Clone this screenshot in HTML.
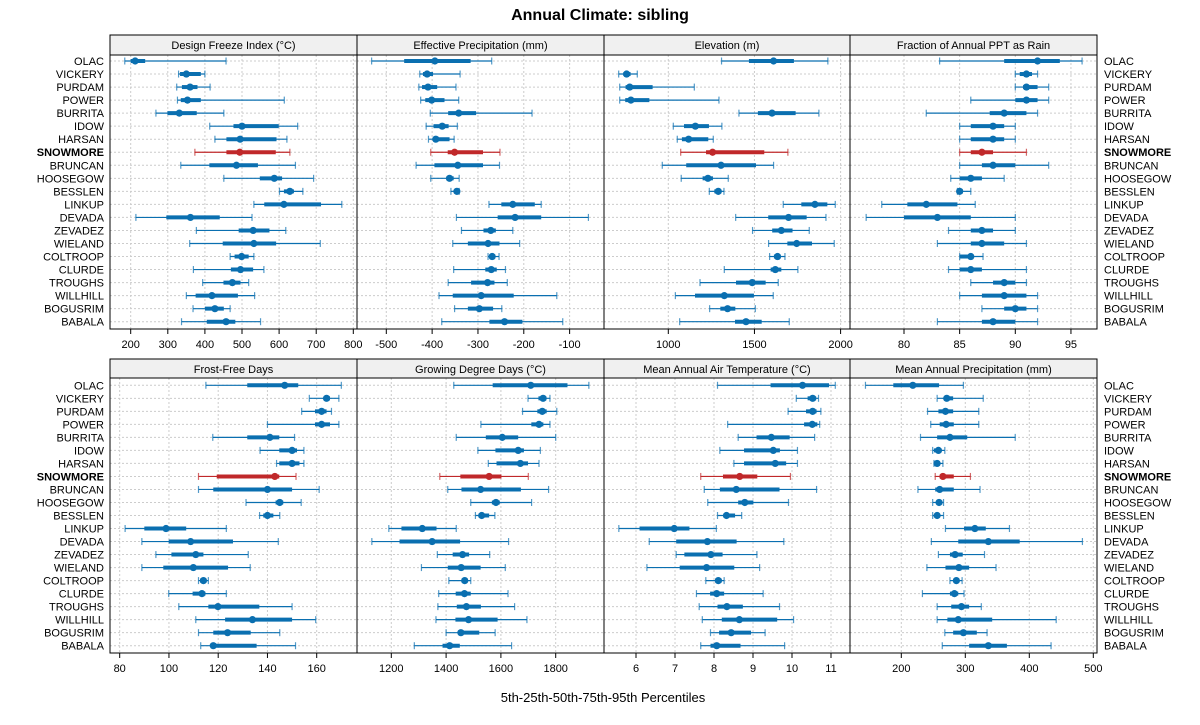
<!DOCTYPE html>
<html><head><meta charset="utf-8"><style>
body{margin:0;background:#fff;}
svg{display:block;font-family:"Liberation Sans",sans-serif;}
</style></head><body>
<svg id="chart" width="1200" height="725" viewBox="0 0 1200 725" xmlns="http://www.w3.org/2000/svg">
<text x="600" y="20" text-anchor="middle" font-size="16" font-weight="bold">Annual Climate: sibling</text>
<text x="603" y="702" text-anchor="middle" font-size="13">5th-25th-50th-75th-95th Percentiles</text>
</svg>
<script>
const sites = ["OLAC","VICKERY","PURDAM","POWER","BURRITA","IDOW","HARSAN","SNOWMORE","BRUNCAN","HOOSEGOW","BESSLEN","LINKUP","DEVADA","ZEVADEZ","WIELAND","COLTROOP","CLURDE","TROUGHS","WILLHILL","BOGUSRIM","BABALA"];
const highlight = "SNOWMORE";
const titles = ["Design Freeze Index (°C)","Effective Precipitation (mm)","Elevation (m)","Fraction of Annual PPT as Rain","Frost-Free Days","Growing Degree Days (°C)","Mean Annual Air Temperature (°C)","Mean Annual Precipitation (mm)"];
const ticksFreeze = [200,300,400,500,600,700,800];
const ticksPrecipEff = [-500,-400,-300,-200,-100];
const ticksElev = [1000,1500,2000];
const ticksRain = [80,85,90,95];
const ticksFFD = [80,100,120,140,160];
const ticksGDD = [1200,1400,1600,1800];
const ticksMAAT = [6,7,8,9,10,11];
const ticksMAP = [200,300,400,500];
const freeze = [[184,200,212,239,457],[329,333,350,389,400],[324,338,360,380,414],[326,335,353,389,614],[268,299,331,378,451],[413,477,500,599,650],[427,458,495,593,621],[373,458,494,591,629],[335,412,485,543,644],[451,548,587,608,693],[601,613,629,640,664],[532,560,613,713,769],[214,296,361,440,527],[377,491,530,574,618],[359,448,532,592,711],[468,480,499,518,532],[369,470,496,530,559],[394,450,474,496,518],[350,375,419,489,534],[368,400,427,451,468],[337,405,457,482,550]];
const precipEff = [[-532,-461,-394,-316,-270],[-427,-420,-411,-398,-339],[-429,-422,-409,-389,-348],[-425,-415,-401,-373,-342],[-404,-365,-342,-304,-182],[-413,-397,-378,-364,-345],[-408,-397,-392,-362,-352],[-403,-366,-351,-289,-252],[-435,-395,-344,-289,-253],[-403,-369,-362,-353,-341],[-359,-351,-346,-342,-341],[-276,-249,-224,-176,-162],[-347,-257,-219,-162,-59],[-336,-288,-272,-261,-224],[-355,-322,-278,-253,-209],[-278,-275,-269,-262,-254],[-353,-284,-271,-259,-240],[-365,-315,-279,-264,-236],[-385,-355,-293,-222,-128],[-351,-322,-297,-267,-248],[-379,-275,-242,-203,-115]];
const elev = [[1309,1468,1611,1729,1926],[712,739,758,781,820],[718,752,776,909,1151],[718,750,783,890,1294],[1410,1520,1602,1739,1874],[1029,1091,1157,1236,1311],[1052,1079,1118,1232,1261],[1072,1219,1257,1557,1694],[965,1104,1306,1509,1611],[1075,1199,1230,1259,1348],[1238,1267,1290,1308,1323],[1667,1772,1851,1923,1969],[1391,1580,1698,1803,1915],[1489,1603,1656,1721,1818],[1582,1691,1745,1834,1963],[1588,1613,1634,1652,1677],[1325,1594,1621,1656,1752],[1184,1393,1487,1565,1638],[1041,1155,1325,1497,1609],[1240,1302,1344,1389,1505],[1066,1387,1451,1542,1702]];
const rainFrac = [[83.2,89,92,94,96],[90,90.4,91,91.5,92],[90,90.7,91,92,93],[86,90,91,92,93],[82,87.7,89,91,92],[85,86,88,89,90],[85,86,88,89,90],[85,86,87,88,91],[85,87,88,90,93],[84.2,85,86,87,89],[84.8,85,85,85.3,86],[78,80.3,82,84.8,86.4],[76.6,80,83,86,90],[84,86,87,88,90],[83,86,87,89,91],[85,85,86,86,87.1],[84,85,86,87,91],[86,88,89,90,91],[85,87,89,91,92],[87,89,90,91,92],[83,87,88,90,92]];
const ffd = [[115,131.8,147,152.5,170],[157,162.8,164,165.4,169],[153.9,159.3,162,164,166],[140,159.3,162,165.4,169],[117.8,131.8,141,144.8,151],[137,144.8,150,152,154.8],[143.7,144.8,150,153,154.8],[112,119.4,143,144.8,151.6],[112,118,140,150,161],[131.3,143.3,145,146.4,153.7],[136.8,138.3,140,142.4,145],[82.2,90,98.8,107,123.3],[89,99.9,108.8,126,144.4],[94.7,101,110.9,114,132.2],[89,97.7,109.9,124,133],[112,112.6,114,115.3,116],[99.9,109.6,113.4,114.8,123.3],[104,116,119.9,136.7,150],[110.9,122.8,133.9,150,159.6],[112,118,123.8,133.2,145],[112.9,116.9,118,135.6,151.4]];
const gdd = [[1428,1570,1709,1843,1921],[1699,1737,1754,1766,1779],[1679,1733,1751,1767,1804],[1527,1711,1739,1755,1779],[1437,1545,1605,1663,1800],[1516,1580,1663,1684,1744],[1554,1584,1671,1699,1739],[1377,1452,1557,1602,1700],[1406,1456,1526,1673,1774],[1490,1567,1582,1596,1712],[1507,1518,1530,1557,1578],[1191,1237,1313,1365,1437],[1129,1230,1349,1451,1628],[1368,1424,1460,1484,1559],[1310,1406,1455,1526,1616],[1410,1456,1468,1479,1490],[1373,1435,1467,1490,1626],[1370,1439,1474,1527,1650],[1363,1434,1482,1588,1695],[1400,1443,1454,1521,1579],[1284,1387,1413,1450,1639]];
const maat = [[8.09,9.45,10.27,10.95,11.11],[10.11,10.4,10.53,10.62,10.68],[9.9,10.36,10.53,10.63,10.74],[8.35,10.31,10.52,10.65,10.71],[8.62,9.09,9.47,9.94,10.58],[8.15,8.77,9.52,9.69,10.14],[8.51,8.77,9.57,9.85,10.14],[7.66,8.23,8.66,9.11,9.96],[7.75,8.15,8.57,9.68,10.63],[7.84,8.62,8.79,9.01,9.91],[8.09,8.24,8.32,8.54,8.71],[5.56,6.09,6.98,7.37,8.06],[6.34,7.03,7.83,8.58,9.79],[7.03,7.24,7.92,8.22,9.1],[6.28,7.12,7.81,8.52,9.17],[7.79,8.03,8.11,8.2,8.26],[7.55,7.9,8.07,8.26,9.26],[7.62,8.09,8.33,8.74,9.68],[7.7,8.2,8.65,9.62,10.04],[7.91,8.13,8.44,8.95,9.31],[7.66,7.91,8.07,8.68,9.81]];
const mapp = [[144,187.5,218,259,297],[256,267,271,281,328],[241,258,269,281,321],[246,260,270,282,321],[230,256,276,303,378],[249,251,258,263,268],[251,253,256,259,265],[253,260,265,282,308],[226,253,260,282,323],[249,255,259,264,266],[249,253,256,260,266],[269,298,315,332,369],[247,289,336,385,483],[258,276,284,296,330],[240,269,290,306,348],[276,282,286,291,295],[233,276,283,289,298],[256,278,294,306,325],[256,272,289,342,442],[268,281,297,318,334],[264,306,336,365,434]];

const NS="http://www.w3.org/2000/svg";
const svg=document.getElementById('chart');
function mk(tag,attrs,parent){const e=document.createElementNS(NS,tag);for(const k in attrs)e.setAttribute(k,attrs[k]);(parent||svg).appendChild(e);return e;}

const panels=[
 {data:freeze,ticks:ticksFreeze,px0:130.7,v0:200,k:0.371,row:0,col:0},
 {data:precipEff,ticks:ticksPrecipEff,px0:386.3,v0:-500,k:0.4583,row:0,col:1},
 {data:elev,ticks:ticksElev,px0:668.3,v0:1000,k:0.1723,row:0,col:2},
 {data:rainFrac,ticks:ticksRain,px0:904,v0:80,k:11.13,row:0,col:3},
 {data:ffd,ticks:ticksFFD,px0:119.7,v0:80,k:2.4625,row:1,col:0},
 {data:gdd,ticks:ticksGDD,px0:391.3,v0:1200,k:0.274,row:1,col:1},
 {data:maat,ticks:ticksMAAT,px0:636,v0:6,k:39,row:1,col:2},
 {data:mapp,ticks:ticksMAP,px0:901.3,v0:200,k:0.64,row:1,col:3}
];
const colX=[110,357,604,850,1097];
const rowGeo=[{strip:35,top:55,bot:329,y0:61,y1:321.7},{strip:359,top:378,bot:653,y0:385.3,y1:645.7}];

// row labels
rowGeo.forEach((g,ri)=>{
 sites.forEach((s,i)=>{
  const y=g.y0+i*(g.y1-g.y0)/(sites.length-1);
  const b = s===highlight;
  const l=mk('text',{x:104,y:y+4,'text-anchor':'end','font-size':11,'font-weight':b?'bold':'normal'});
  l.textContent=s;
  
  
  const r=mk('text',{x:1104,y:y+4,'text-anchor':'start','font-size':11,'font-weight':b?'bold':'normal'});
  r.textContent=s;
  
  
 });
});

panels.forEach((p,pi)=>{
 const g=rowGeo[p.row];const x0=colX[p.col],x1=colX[p.col+1];
 const grp=mk('g',{});
 
 
 const sx=v=>p.px0+(v-p.v0)*p.k;
 const sy=i=>g.y0+i*(g.y1-g.y0)/(sites.length-1);
 // strip
 const st=mk('rect',{x:x0,y:g.strip,width:x1-x0,height:g.top-g.strip,fill:'#f0f0f0',stroke:'#000','stroke-width':1},grp);
 
 
 const tt=mk('text',{x:(x0+x1)/2,y:g.strip+14,'text-anchor':'middle','font-size':11},grp);
 tt.textContent=titles[pi];
 
 
 // grid
 p.ticks.forEach(t=>{const x=sx(t);if(x>x0&&x<x1)mk('line',{x1:x,x2:x,y1:g.top,y2:g.bot,stroke:'#ccc','stroke-dasharray':'2,2'},grp);});
 sites.forEach((s,i)=>mk('line',{x1:x0,x2:x1,y1:sy(i),y2:sy(i),stroke:'#ccc','stroke-dasharray':'2,2'},grp));
 // marks
 p.data.forEach((d,i)=>{
  const c = sites[i]===highlight ? '#c0282a' : '#0a6fb0';
  const y=sy(i);
  const w=mk('line',{x1:sx(d[0]),x2:sx(d[4]),y1:y,y2:y,stroke:c,'stroke-width':1.2},grp);
  
  
  [d[0],d[4]].forEach(v=>mk('line',{x1:sx(v),x2:sx(v),y1:y-3.5,y2:y+3.5,stroke:c,'stroke-opacity':0.7,'stroke-width':1.2},grp));
  const b=mk('line',{x1:sx(d[1]),x2:sx(d[3]),y1:y,y2:y,stroke:c,'stroke-width':4},grp);
  
  
  const m=mk('circle',{cx:sx(d[2]),cy:y,r:3.6,fill:c},grp);
  
  
 });
 // frame
 mk('rect',{x:x0,y:g.top,width:x1-x0,height:g.bot-g.top,fill:'none',stroke:'#000','stroke-width':1},grp);
 // ticks
 p.ticks.forEach(t=>{const x=sx(t);
  mk('line',{x1:x,x2:x,y1:g.bot,y2:g.bot+5,stroke:'#000'},grp);
  const l=mk('text',{x:x,y:g.bot+19,'text-anchor':'middle','font-size':11},grp);
  l.textContent=String(t).replace('-','-');
  
  
 });
});
</script>
</body></html>
